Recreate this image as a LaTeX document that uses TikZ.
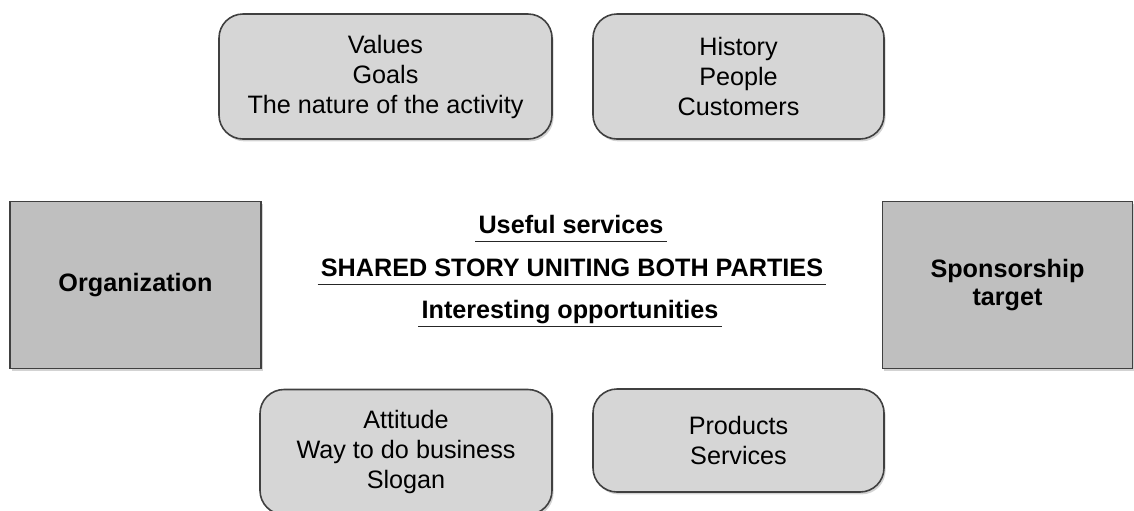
\documentclass[tikz,border=0pt]{standalone}
\usepackage{fontspec}
\setmainfont{Liberation Sans}
\usetikzlibrary{shadows}
\begin{document}
\begin{tikzpicture}[x=0.5pt, y=-0.5pt,
    txt/.style={font=\fontsize{12.6}{15}\selectfont, align=center},
    roundbox/.style={txt, draw=black!75, line width=0.8pt, fill=black!16, rounded corners=12pt,
        outer sep=0pt, drop shadow={shadow xshift=0.8pt, shadow yshift=-1.2pt, opacity=0.35}},
    sidebox/.style={txt, draw=black!75, line width=0.8pt, fill=black!25, outer sep=0pt,
        font=\fontsize{12.6}{14}\selectfont\bfseries,
        drop shadow={shadow xshift=0.8pt, shadow yshift=-1.2pt, opacity=0.35}},
    story/.style={font=\fontsize{12.6}{15}\selectfont\bfseries, anchor=base, text depth=0pt,
        inner xsep=1.5pt, inner ysep=4pt}]
    \useasboundingbox (0,0) rectangle (1134,510);
    \clip (0,0) rectangle (1134,510);

    %top boxes
    \node[roundbox, minimum width=166.5pt, minimum height=62.5pt] (values) at (385.5,76.5)
        {Values\\Goals\\The nature of the activity};
    \node[roundbox, minimum width=145.5pt, minimum height=62.5pt] (history) at (738.5,76.5)
        {History\\People\\Customers};

    %side boxes
    \node[sidebox, minimum width=125.5pt, minimum height=83.5pt] (organization) at (135.5,285)
        {Organization};
    \node[sidebox, minimum width=125pt, minimum height=83.5pt] (sponsor) at (1007.5,285)
        {Sponsorship\\target};

    %bottom boxes
    \node[roundbox, minimum width=146pt, minimum height=62.5pt] (attitude) at (406,452)
        {Attitude\\Way to do business\\Slogan};
    \node[roundbox, minimum width=145.5pt, minimum height=51.5pt] (products) at (738.5,440.5)
        {Products\\Services};

    %shared story (underlined)
    \node[story] (useful) at (571,233) {Useful services};
    \node[story] (shared) at (572,276) {SHARED STORY UNITING BOTH PARTIES};
    \node[story] (interesting) at (570,318) {Interesting opportunities};
    \foreach \n in {useful, shared, interesting}
        \draw[line width=0.9pt, black!85] (\n.south west) -- (\n.south east);
\end{tikzpicture}
\end{document}
